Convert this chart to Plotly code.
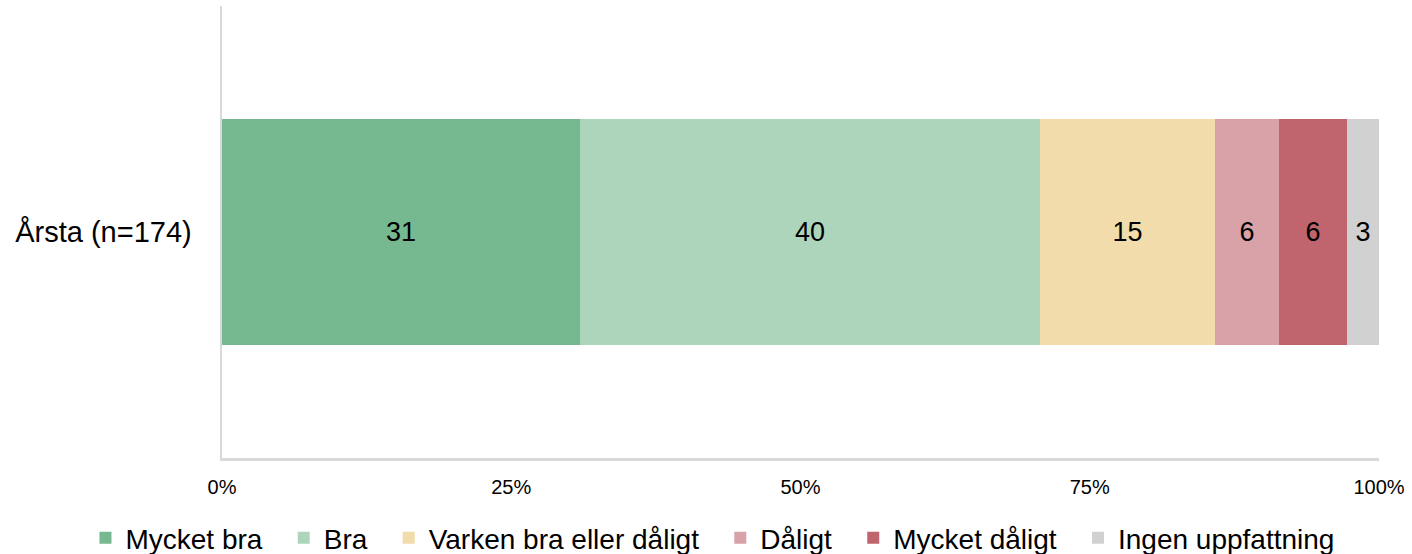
import plotly.graph_objects as go

categories = ["Årsta (n=174)"]
series_names = ["Mycket bra", "Bra", "Varken bra eller dåligt", "Dåligt", "Mycket dåligt", "Ingen uppfattning"]
series_values = [30.94, 39.76, 15.13, 5.53, 5.88, 2.76]
colors = ["#76b990", "#add5bc", "#f2dcab", "#d9a1a8", "#c0646d", "#d1d1d1"]
tick_vals = [0, 25, 50, 75, 100]
tick_text = ["0%", "25%", "50%", "75%", "100%"]

FONT = "Liberation Sans, Arial, sans-serif"
PAD = "\u2002\u200a"  # trailing spacing between legend entries

fig = go.Figure()
for i, (name, val, col) in enumerate(zip(series_names, series_values, colors)):
    label = name + (PAD if i < len(series_names) - 1 else "")
    fig.add_trace(go.Bar(
        y=categories, x=[val], name=label, orientation="h",
        marker=dict(color=col, line=dict(width=0)),
        text=[f"{val:.0f}"], textposition="inside", insidetextanchor="middle",
        textangle=0, constraintext="none",
        textfont=dict(family=FONT, size=27, color="black"),
        width=0.5, hoverinfo="skip",
    ))

fig.update_layout(
    barmode="stack",
    width=1412, height=554,
    margin=dict(l=222, r=33, t=6, b=96, autoexpand=False),
    paper_bgcolor="white", plot_bgcolor="white",
    font=dict(family=FONT, color="black"),
    showlegend=True,
    legend=dict(
        orientation="h", xref="paper", x=-0.118, xanchor="left",
        yref="paper", y=-0.177, yanchor="middle",
        font=dict(family=FONT, size=28, color="black"),
        traceorder="normal", bgcolor="rgba(0,0,0,0)",
    ),
    xaxis=dict(
        range=[0, 100], tickvals=tick_vals, ticktext=tick_text,
        showgrid=False, zeroline=False,
        showline=True, linecolor="#d9d9d9", linewidth=2.5,
        ticks="", tickfont=dict(family=FONT, size=20, color="black"),
        ticklabelstandoff=9, fixedrange=True,
    ),
    yaxis=dict(
        range=[-0.5, 0.5], showgrid=False, zeroline=False,
        showline=True, linecolor="#d9d9d9", linewidth=2.5,
        ticks="", tickfont=dict(family=FONT, size=29, color="black"),
        ticklabelstandoff=22, fixedrange=True,
    ),
)

fig.write_html(
    "out.html",
    config={"displayModeBar": False, "staticPlot": True},
    post_script="document.body.style.margin='0';",
)
